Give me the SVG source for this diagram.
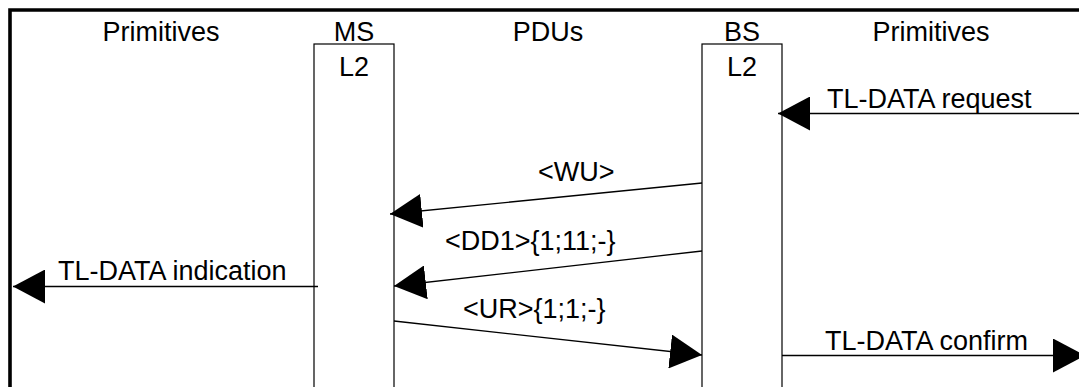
<svg xmlns="http://www.w3.org/2000/svg" width="1079" height="387" viewBox="0 0 1079 387">
<style>
text{font-family:"Liberation Sans",Arial,sans-serif;font-size:27px;fill:#000}
.c{text-anchor:middle}
.box{fill:#fff;stroke:#000;stroke-width:1.2}
.msg{stroke:#000;stroke-width:1.3;fill:none;marker-end:url(#ah)}
</style>
<defs>
<marker id="ah" markerUnits="userSpaceOnUse" markerWidth="32" markerHeight="34" viewBox="0 0 32 34" refX="32" refY="17" orient="auto">
<path d="M0,0 L32,17 L0,34 Z" fill="#000"/>
</marker>
</defs>
<rect width="1079" height="387" fill="#fff"/>
<path d="M10,390 V10 H1085" fill="none" stroke="#000" stroke-width="3.6"/>
<g id="headers">
<text class="c" x="161" y="41">Primitives</text>
<text class="c" x="548" y="41">PDUs</text>
<text class="c" x="931" y="41">Primitives</text>
</g>
<g id="ms">
<rect class="box" x="314" y="44" width="80" height="360"/>
<text class="c" x="354" y="41">MS</text>
<text class="c" x="354" y="76">L2</text>
</g>
<g id="bs">
<rect class="box" x="702" y="44" width="80" height="360"/>
<text class="c" x="742" y="41">BS</text>
<text class="c" x="742" y="76">L2</text>
</g>
<g id="connectors">
<line class="msg" x1="1085" y1="113.5" x2="778" y2="113.5"/>
<text x="827" y="108">TL-DATA request</text>
<line class="msg" x1="702" y1="183" x2="390" y2="214"/>
<text x="538" y="181">&lt;WU&gt;</text>
<line class="msg" x1="702" y1="251" x2="394" y2="286"/>
<text x="445" y="250">&lt;DD1&gt;{1;11;-}</text>
<line class="msg" x1="318" y1="286.5" x2="13" y2="286.5"/>
<text x="58" y="280">TL-DATA indication</text>
<line class="msg" x1="394" y1="321" x2="702" y2="355"/>
<text x="463" y="318">&lt;UR&gt;{1;1;-}</text>
<line class="msg" x1="782" y1="355.5" x2="1085" y2="355.5"/>
<text x="825" y="350">TL-DATA confirm</text>
</g>
</svg>
